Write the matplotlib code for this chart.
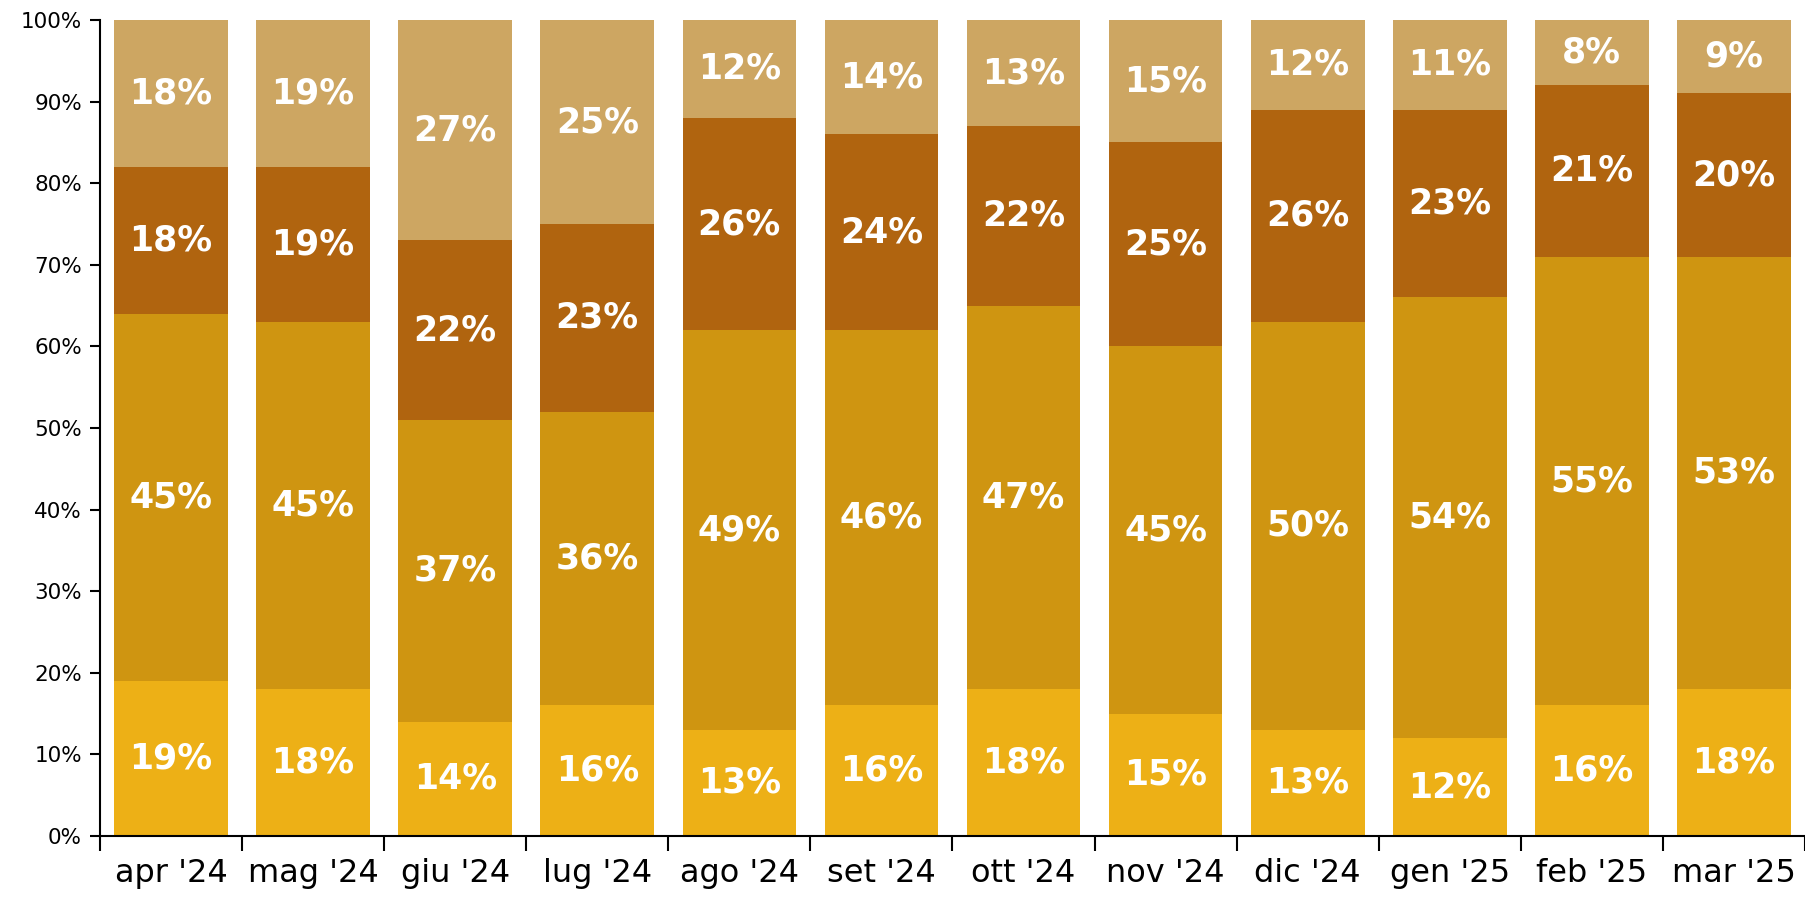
### Imports ###
import numpy as np
import matplotlib
matplotlib.use('Agg')
import matplotlib.pyplot as plt
from matplotlib.ticker import FixedLocator, PercentFormatter

### Data ###
months = ["apr '24", "mag '24", "giu '24", "lug '24", "ago '24", "set '24",
          "ott '24", "nov '24", "dic '24", "gen '25", "feb '25", "mar '25"]
# Shares in percent, stacked from the bottom up
share_1 = [19, 18, 14, 16, 13, 16, 18, 15, 13, 12, 16, 18]
share_2 = [45, 45, 37, 36, 49, 46, 47, 45, 50, 54, 55, 53]
share_3 = [18, 19, 22, 23, 26, 24, 22, 25, 26, 23, 21, 20]
share_4 = [18, 19, 27, 25, 12, 14, 13, 15, 12, 11, 8, 9]

colors = ['#EDB016', '#CF9511', '#B0640F', '#CDA662']

### Plot ###
fig = plt.figure(figsize=(18.05, 8.99), dpi=100)
ax = fig.add_axes([100 / 1805, 1 - 836 / 899, 1 - 100 / 1805, (836 - 20) / 899])

x = np.arange(len(months))
bottom = np.zeros(len(months))
for vals, col in zip([share_1, share_2, share_3, share_4], colors):
    vals = np.array(vals, dtype=float)
    ax.bar(x, vals, bottom=bottom, width=0.8, color=col, linewidth=0)
    # Label each segment in its centre (top segment clipped at 100%)
    for xi, b, v in zip(x, bottom, vals):
        yc = min(b + v / 2, (b + 100) / 2)
        ax.text(xi, yc, f'{int(v)}%', ha='center', va='center',
                color='white', fontsize=25, fontweight='bold')
    bottom += vals

ax.set_xlim(-0.5, len(months) - 0.5)
ax.set_ylim(0, 100)

# Y axis: percent ticks every 10
ax.set_yticks(np.arange(0, 101, 10))
ax.yaxis.set_major_formatter(PercentFormatter(decimals=0))
ax.tick_params(axis='y', length=7, width=1.5, labelsize=15.5, pad=6)

# X axis: labels centred on bars, ticks between categories
ax.set_xticks(x, months)
ax.xaxis.set_minor_locator(FixedLocator(np.arange(-0.5, len(months), 1)))
ax.tick_params(axis='x', which='major', length=0, labelsize=23, pad=16)
ax.tick_params(axis='x', which='minor', length=11, width=1.5)

for side in ['top', 'right']:
    ax.spines[side].set_visible(False)
for side in ['left', 'bottom']:
    ax.spines[side].set_linewidth(1.5)

fig.savefig('out.png', dpi=100)
